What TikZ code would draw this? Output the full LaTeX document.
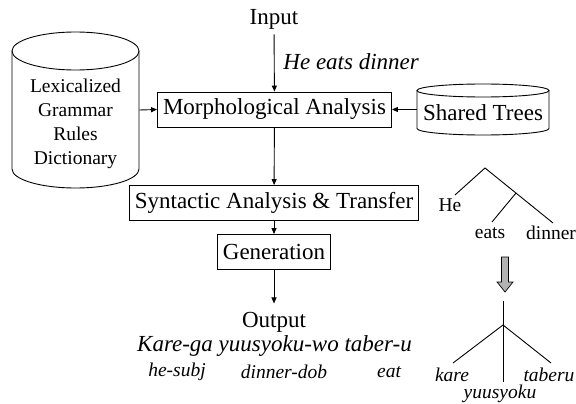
\documentclass[tikz,border=0pt]{standalone}
\usepackage{fontspec}
\setmainfont{Liberation Serif}
\usetikzlibrary{arrows.meta,positioning}
\newcommand{\bigtxt}{\fontsize{23}{27}\selectfont}
\newcommand{\smalltxt}{\fontsize{19.5}{24}\selectfont}

\begin{document}
\begin{tikzpicture}[x=1pt,y=-1pt,line width=0.9pt,
    >={Triangle[length=6pt,width=5pt]},
    procbox/.style={draw,inner xsep=5.5pt,minimum height=35pt,font=\bigtxt},
    plain/.style={inner sep=0pt,font=\bigtxt},
    leaf/.style={inner sep=0pt,font=\smalltxt}]
    \useasboundingbox (0,0) rectangle (576,404);
    % pipeline
    \node[plain,inner sep=5pt] (inp) at (274,19) {Input};
    \node[procbox] (morph) at (274.5,109.5) {Morphological Analysis};
    \node[procbox] (synt) at (274,203) {Syntactic Analysis \& Transfer};
    \node[procbox] (gen) at (274,252) {Generation};
    \node[plain,inner sep=8pt] (outp) at (274,322) {Output};
    \node[plain,anchor=west] (sent) at (283,62) {\itshape He eats dinner};
    \node[plain] (kare) at (274.5,346) {\itshape Kare-ga yuusyoku-wo taber-u};
    \node[leaf] (g1) at (177,372) {\itshape he-subj};
    \node[leaf] (g2) at (284,372) {\itshape dinner-dob};
    \node[leaf] (g3) at (389,372) {\itshape eat};
    % databases
    \node[minimum width=127pt,minimum height=156pt,inner sep=0pt] (lexdb) at (75.5,110) {};
    \node[leaf,align=center] (lex) at (75.5,124) {Lexicalized\\Grammar\\Rules\\Dictionary};
    \draw (12,51) -- (12,169) arc[start angle=180,end angle=360,x radius=63.5pt,y radius=19pt] -- (139,51);
    \draw (75.5,51) ellipse[x radius=63.5pt,y radius=19pt];
    \node[plain,minimum width=132pt] (shared) at (483,113) {Shared Trees};
    \draw (417,90.5) -- (417,128.5) arc[start angle=180,end angle=360,x radius=66pt,y radius=6.5pt] -- (549,90.5);
    \draw (483,90.5) ellipse[x radius=66pt,y radius=6.5pt];
    % arrows
    \draw[->] (inp) -- (morph);
    \draw[->] (morph) -- (synt);
    \draw[->] (synt) -- (gen);
    \draw[->] (gen) -- (outp);
    \draw[->] (lexdb.east) -- (morph.west);
    \draw[->] (shared.west |- morph.east) -- (morph.east);
    % english tree
    \coordinate (ea) at (485,168);
    \coordinate (eb) at (516,193);
    \coordinate (ehe) at (455,195);
    \coordinate (eeats) at (492,222);
    \coordinate (edin) at (553,223);
    \node[leaf] (he) at (450,205) {He};
    \node[leaf] (eats) at (490,233) {eats};
    \node[leaf] (dinner) at (551,233) {dinner};
    \draw (ehe) -- (ea) -- (edin);
    \draw (eb) -- (eeats);
    % transfer arrow
    \draw[fill=black!30,line width=0.7pt] (501.5,257) -- (508.5,257) -- (508.5,282) -- (513,282)
        -- (505,292) -- (497,282) -- (501.5,282) -- cycle;
    % japanese tree
    \coordinate (ja) at (503,301);
    \coordinate (jb) at (503,325);
    \coordinate (jkare) at (453,363);
    \coordinate (jtab) at (551,363);
    \coordinate (jyuu) at (503,382);
    \node[leaf] (kr) at (452,375) {\itshape kare};
    \node[leaf] (tb) at (549,375) {\itshape taberu};
    \node[leaf] (yu) at (500,394) {\itshape yuusyoku};
    \draw (ja) -- (jyuu);
    \draw (jkare) -- (jb) -- (jtab);
\end{tikzpicture}
\end{document}
